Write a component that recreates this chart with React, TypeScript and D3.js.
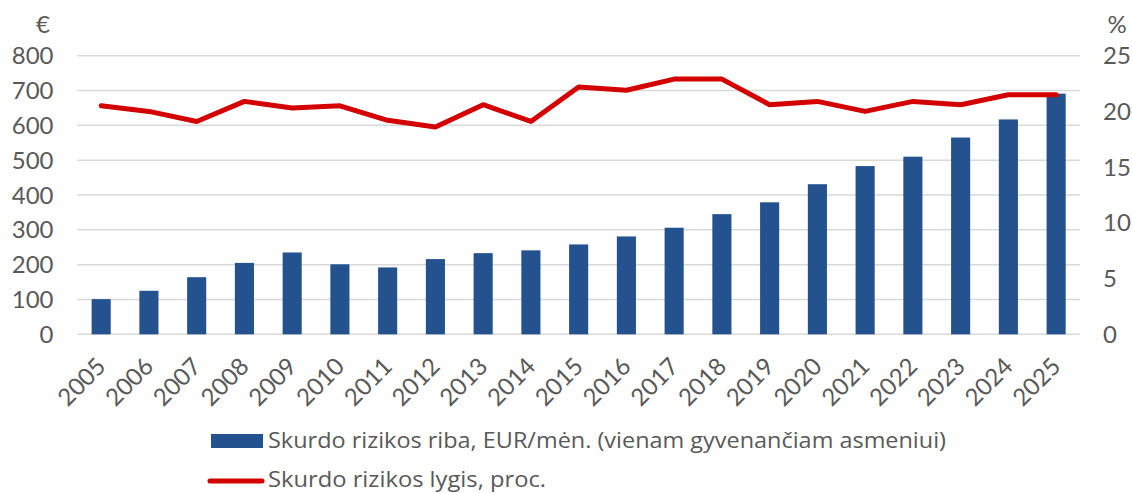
import React from "react";
import * as d3 from "d3";

const years = ["2005","2006","2007","2008","2009","2010","2011","2012","2013","2014","2015","2016","2017","2018","2019","2020","2021","2022","2023","2024","2025"];
const thresholdEur = [101,125,164,205,235,201,192,216,233,241,258,281,306,345,379,431,483,510,565,617,691];
const riskRate = [20.5,20.0,19.1,20.9,20.3,20.5,19.2,18.6,20.6,19.1,22.2,21.9,22.9,22.9,20.6,20.9,20.0,20.9,20.6,21.5,21.5];
const leftTicks = [0,100,200,300,400,500,600,700,800];
const rightTicks = [0,5,10,15,20,25];
const legendLabels = ["Skurdo rizikos riba, EUR/mėn. (vienam gyvenančiam asmeniui)", "Skurdo rizikos lygis, proc."];

const W = 1132, H = 493;
const left = 77.3, right = 1080, top = 55.7, bottom = 334.3;
const BAR = "#23528F";
const RED = "#D40000";
const TXT = "#595959";
const FONT = "Lato, 'Open Sans', sans-serif";
const LFONT = "'Open Sans', Lato, sans-serif";

export default function App() {
  const x = d3.scaleBand<string>().domain(years).range([left, right]).paddingInner(0.6).paddingOuter(0.3);
  const yL = d3.scaleLinear().domain([0, 800]).range([bottom, top]);
  const yR = d3.scaleLinear().domain([0, 25]).range([bottom, top]);
  const cx = (y: string) => (x(y) as number) + x.bandwidth() / 2;
  const line = d3.line<number>().x((_, i) => cx(years[i])).y((d) => yR(d));

  return (
    <svg width={W} height={H} style={{ position: "absolute", left: 0, top: 0, background: "#fff" }} fontFamily={FONT}>
      {leftTicks.map((t) => (
        <line key={"g" + t} x1={left} x2={right} y1={yL(t)} y2={yL(t)} stroke="#d9d9d9" strokeWidth={1.5} />
      ))}
      {years.map((y, i) => (
        <rect key={"b" + y} x={x(y)} y={yL(thresholdEur[i])} width={x.bandwidth()} height={yL(0) - yL(thresholdEur[i])} fill={BAR} />
      ))}
      <path d={line(riskRate) || ""} fill="none" stroke={RED} strokeWidth={5} strokeLinejoin="round" strokeLinecap="round" />
      {leftTicks.map((t) => (
        <text key={"lt" + t} x={53.5} y={yL(t) + 8.5} textAnchor="end" fontSize={24} fill={TXT}>{t}</text>
      ))}
      {rightTicks.map((t) => (
        <text key={"rt" + t} x={1103} y={yR(t) + 8.5} textAnchor="start" fontSize={24} fill={TXT}>{t}</text>
      ))}
      <text x={43} y={32.5} textAnchor="middle" fontSize={24} fill={TXT}>€</text>
      <text x={1117} y={33} textAnchor="middle" fontSize={24} fill={TXT}>%</text>
      {years.map((y) => (
        <text key={"xl" + y} transform={`translate(${cx(y) + 6},${368}) rotate(-45)`} textAnchor="end" fontSize={24} fill={TXT}>{y}</text>
      ))}
      <rect x={211} y={434} width={52} height={14} fill={BAR} />
      <text x={268} y={448} fontSize={22} fill={TXT} fontFamily={LFONT} textLength={678} lengthAdjust="spacingAndGlyphs">{legendLabels[0]}</text>
      <line x1={210} x2={262} y1={481} y2={481} stroke={RED} strokeWidth={5} strokeLinecap="round" />
      <text x={268} y={486.5} fontSize={21} fill={TXT} fontFamily={LFONT} textLength={278} lengthAdjust="spacingAndGlyphs">{legendLabels[1]}</text>
    </svg>
  );
}
